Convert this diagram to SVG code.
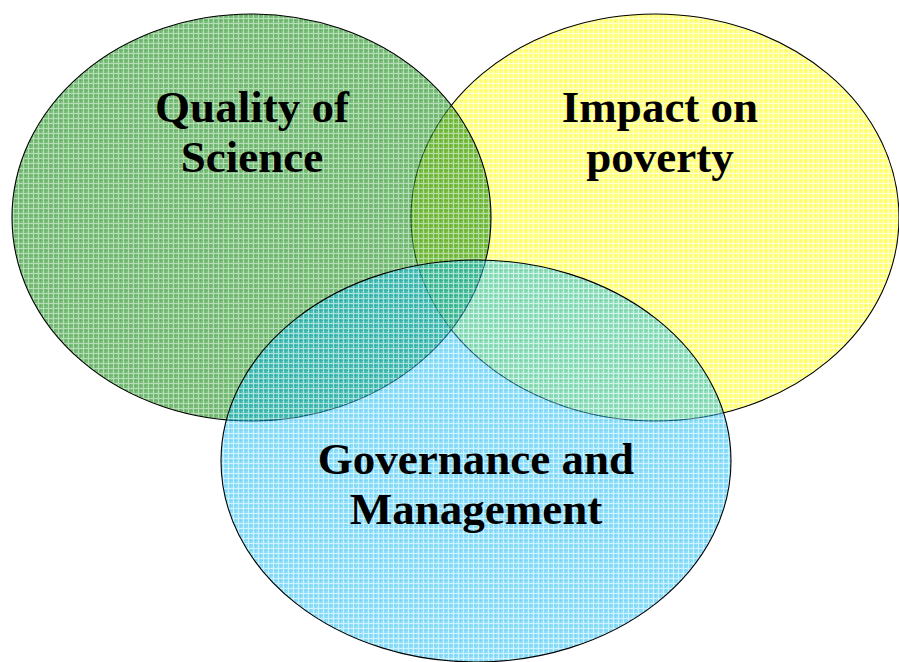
<svg xmlns="http://www.w3.org/2000/svg" width="899" height="662" viewBox="0 0 899 662">
  <style>
    .ring { stroke: #000; stroke-width: 1.1; }
    .label { font-family: "Liberation Serif", "Times New Roman", serif; font-weight: bold; font-size: 45px; text-anchor: middle; fill: #000; }
  </style>
  <defs>
    <!-- plaid textures for the three sets -->
    <pattern id="plaidGreen" width="5" height="5" patternUnits="userSpaceOnUse">
      <rect width="5" height="5" fill="#2a9a2a"/>
      <rect x="0" y="0" width="1" height="5" fill="#0e820e"/>
      <rect x="0" y="0" width="5" height="1" fill="#0e820e"/>
      <rect x="3" y="0" width="1" height="5" fill="#86c886"/>
      <rect x="0" y="3" width="5" height="1" fill="#86c886"/>
    </pattern>
    <pattern id="plaidYellow" width="5" height="5" patternUnits="userSpaceOnUse">
      <rect width="5" height="5" fill="#ffff40"/>
      <rect x="0" y="0" width="1" height="5" fill="#ffff00"/>
      <rect x="0" y="0" width="5" height="1" fill="#ffff00"/>
      <rect x="3" y="0" width="1" height="5" fill="#ffffb0"/>
      <rect x="0" y="3" width="5" height="1" fill="#ffffb0"/>
    </pattern>
    <pattern id="plaidCyan" width="5" height="5" patternUnits="userSpaceOnUse">
      <rect width="5" height="5" fill="#2ec3f5"/>
      <rect x="0" y="0" width="1" height="5" fill="#00aeee"/>
      <rect x="0" y="0" width="5" height="1" fill="#00aeee"/>
      <rect x="3" y="0" width="1" height="5" fill="#a0e6ff"/>
      <rect x="0" y="3" width="5" height="1" fill="#a0e6ff"/>
    </pattern>
  </defs>

  <g id="impact">
    <ellipse class="ring" cx="655" cy="217.5" rx="244" ry="203.5" fill="url(#plaidYellow)" fill-opacity="0.6"/>
  </g>
  <g id="quality">
    <ellipse class="ring" cx="251.5" cy="217.5" rx="239.5" ry="203.5" fill="url(#plaidGreen)" fill-opacity="0.6"/>
  </g>
  <g id="governance">
    <ellipse class="ring" cx="476" cy="461" rx="255" ry="201" fill="url(#plaidCyan)" fill-opacity="0.5"/>
  </g>

  <g id="labels">
    <text class="label" x="252" y="122">Quality of</text>
    <text class="label" x="252" y="172">Science</text>
    <text class="label" x="660" y="122">Impact on</text>
    <text class="label" x="660" y="172">poverty</text>
    <text class="label" x="476" y="474">Governance and</text>
    <text class="label" x="476" y="524">Management</text>
  </g>
  <g id="connectors"/>
</svg>
